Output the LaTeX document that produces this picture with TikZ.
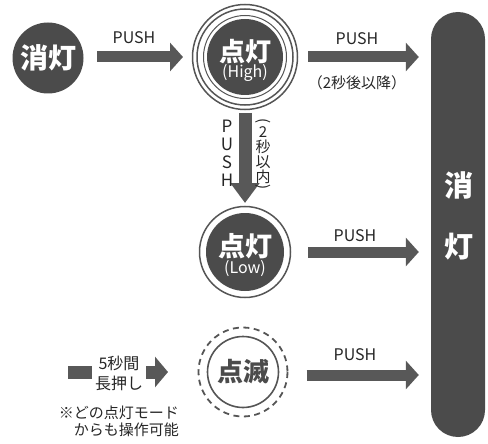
\documentclass[tikz,border=0pt]{standalone}
\usepackage{fontspec}
\setmainfont{Noto Sans CJK JP}
\usetikzlibrary{arrows.meta,calc}
\definecolor{dk}{HTML}{4B4B4B}
\definecolor{ar}{HTML}{585858}
\definecolor{rg}{HTML}{555555}
\begin{document}
\begin{tikzpicture}[x=1pt,y=-1pt,
  disk/.style={circle,fill=dk,inner sep=0pt,minimum size=#1},
  ringc/.style={draw=rg,line width=1.5pt},
  bigarrow/.style={draw=ar,line width=11pt,-{Triangle[width=28pt,length=13pt]}},
  lbl/.style={font=\fontsize{16}{18}\selectfont,text=black!85,inner sep=0pt},
  jpw/.style={font=\fontsize{#1}{#1}\selectfont\bfseries,text=white,inner sep=0pt},
  sub/.style={font=\fontsize{16}{17}\selectfont,text=white,inner sep=0pt}]
\useasboundingbox (0,0) rectangle (488,444);
% nodes
\node[disk=71pt] (off) at (48,58) {};
\node[jpw=28] (offt) at (48,58) {消灯};
\node[disk=76pt] (high) at (245,57) {};
\draw[ringc,line width=1pt] (high.center) circle (41.5);
\draw[ringc] (high.center) circle (48);
\draw[ringc] (high.center) circle (52.5);
\coordinate (highS) at ($(high.center)+(0,53)$);
\coordinate (highE) at ($(high.center)+(53,0)$);
\coordinate (highW) at ($(high.center)+(-53,0)$);
\node[jpw=26] (hight) at (245,52) {点灯};
\node[sub] (highs) at (245,73) {(High)};
\node[disk=78pt] (low) at (245,252) {};
\draw[ringc] (low.center) circle (45.5);
\coordinate (lowN) at ($(low.center)+(0,-45.5)$);
\coordinate (lowE) at ($(low.center)+(45.5,0)$);
\node[jpw=27] (lowt) at (245,246) {点灯};
\node[sub] (lows) at (245,269) {(Low)};
\node[circle,draw=rg,line width=1.6pt,fill=white,minimum size=71pt,inner sep=0pt] (blink) at (243,372) {};
\draw[draw=rg,line width=1.8pt,dash pattern=on 6pt off 4.5pt] (blink.center) circle (44.5);
\coordinate (blinkA) at ($(blink.center)+(44.5,3)$);
\node[jpw=26,text=dk] (blinkt) at (243,372) {点滅};
\node[fill=dk,rounded corners=27pt,minimum width=54pt,minimum height=425pt,inner sep=0pt] (bar) at (458,224.5) {};
\node[jpw=29] (bar1) at (459,185) {消};
\node[jpw=29] (bar2) at (459,247) {灯};
% arrows
\draw[bigarrow,shorten <=13.5pt,shorten >=9pt] (off.east |- high.center) -- (highW);
\node[lbl] (p1) at (134,38) {PUSH};
\draw[bigarrow,shorten <=10pt,shorten >=12pt] (highE) -- (highE -| bar.west);
\node[lbl] (p2) at (357,39) {PUSH};
\node[lbl,font=\fontsize{15}{17}\selectfont] (p2b) at (357,83) {（2秒後以降）};
\draw[draw=ar,line width=13pt,-{Triangle[width=28pt,length=20pt]},shorten <=3pt,shorten >=3.5pt] (highS) -- (lowN);
\node[lbl,align=center,font=\fontsize{17}{18}\selectfont] (pv) at (227,153) {P\\U\\S\\H};
\node[lbl,align=center,font=\fontsize{15}{15}\selectfont] (pv2) at (263,155) {2\\秒\\以\\内};
\node[lbl,font=\fontsize{15}{15}\selectfont] (pvo) at (263,122) {\rotatebox[origin=c]{-90}{(}};
\node[lbl,font=\fontsize{15}{15}\selectfont] (pvc) at (263,188) {\rotatebox[origin=c]{-90}{)}};
\draw[bigarrow,shorten <=17.5pt,shorten >=12pt] (lowE) -- (lowE -| bar.west);
\node[lbl] (p3) at (355,236) {PUSH};
\draw[bigarrow,shorten <=19pt,shorten >=12pt] (blinkA) -- (blinkA -| bar.west);
\node[lbl] (p4) at (355,355) {PUSH};
\coordinate (ls) at (68,372);
\coordinate (le) at (168,372);
\draw[draw=ar,line width=13pt,-{Triangle[width=30pt,length=13pt]}] (ls) -- (le);
\node[fill=white,inner xsep=3pt,inner ysep=2pt,align=center,font=\fontsize{16}{20}\selectfont,text=black!85] (hold) at (119,373) {5秒間\\長押し};
\node[inner sep=0pt,align=right,anchor=east,font=\fontsize{15}{17}\selectfont,text=black!85] (note) at (179,421.5) {※どの点灯モード\\からも操作可能};
\end{tikzpicture}
\end{document}
